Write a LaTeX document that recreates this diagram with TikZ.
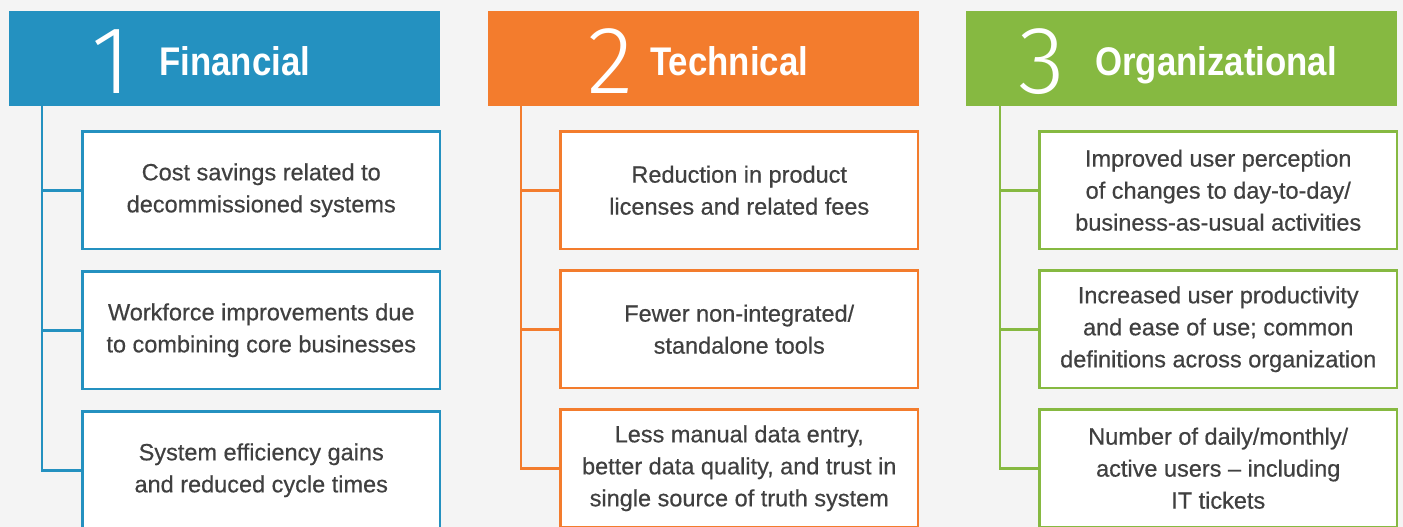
\documentclass[tikz,border=0pt]{standalone}
\usepackage{fontspec}
\setmainfont{Liberation Sans}[FakeBold=0.5]
\newfontfamily\headfont{Liberation Sans}[FakeStretch=0.87]
\newfontfamily\numfont{Fira Sans Light}
\usetikzlibrary{positioning}
\definecolor{finblue}{RGB}{36,145,192}
\definecolor{techorange}{RGB}{243,124,45}
\definecolor{orggreen}{RGB}{134,185,65}
\definecolor{bggray}{RGB}{244,244,244}
\definecolor{txtgray}{RGB}{64,64,64}

\begin{document}
\begin{tikzpicture}[x=1pt,y=-1pt,
  head/.style={fill=#1, minimum width=431pt, minimum height=95pt, anchor=north west, inner sep=0pt},
  num/.style={text=white, font=\numfont\fontsize{96}{96}\selectfont, inner sep=0pt, anchor=base east},
  title/.style={text=white, font=\headfont\bfseries\fontsize{40}{40}\selectfont, inner sep=0pt, anchor=base west},
  item/.style={draw=#1, line width=2.5pt, fill=white, minimum width=357.5pt, minimum height=117.5pt,
    anchor=north west, align=center, text=txtgray, font=\fontsize{23.5}{32}\selectfont, inner sep=0pt},
  branch/.style={draw=#1, line width=2.5pt}]
\fill[bggray] (0,0) rectangle (1403,527);
\useasboundingbox (0,0) rectangle (1403,527);

\node[head=finblue] (h1) at (9,11) {};
\node[head=techorange] (h2) at (488,11) {};
\node[head=orggreen] (h3) at (966,11) {};

\node[title] (t1) at (159,76) {Financial};
\node[num] (n1) at (131,93) {1};
\node[title] (t2) at (650,76) {Technical};
\node[num] (n2) at (634,93) {2};
\node[title] (t3) at (1095,76) {Organizational};
\node[num] (n3) at (1065,93) {3};

\node[item=finblue] (b11) at (81.25,130.25) {Cost savings related to\\decommissioned systems};
\node[item=finblue] (b12) at (81.25,270.25) {Workforce improvements due\\to combining core businesses};
\node[item=finblue] (b13) at (81.25,410.25) {System efficiency gains\\and reduced cycle times};
\node[item=techorange] (b21) at (559.25,130.25) {Reduction in product\\licenses and related fees};
\node[item=techorange] (b22) at (559.25,269.25) {Fewer non-integrated/\\standalone tools};
\node[item=techorange] (b23) at (559.25,408.25) {Less manual data entry,\\better data quality, and trust in\\single source of truth system};
\node[item=orggreen] (b31) at (1038.25,130.25) {Improved user perception\\of changes to day-to-day/\\business-as-usual activities};
\node[item=orggreen] (b32) at (1038.25,269.25) {Increased user productivity\\and ease of use; common\\definitions across organization};
\node[item=orggreen] (b33) at (1038.25,408.25) {Number of daily/monthly/\\active users -- including\\IT tickets};

\coordinate (s1) at (42,106);
\coordinate (s2) at (521,106);
\coordinate (s3) at (1000,106);
\draw[branch=finblue] (s1) |- (b13.west);
\draw[branch=finblue] (b11.west) -- (b11.west -| s1) (b12.west) -- (b12.west -| s1);
\draw[branch=techorange] (s2) |- (b23.west);
\draw[branch=techorange] (b21.west) -- (b21.west -| s2) (b22.west) -- (b22.west -| s2);
\draw[branch=orggreen] (s3) |- (b33.west);
\draw[branch=orggreen] (b31.west) -- (b31.west -| s3) (b32.west) -- (b32.west -| s3);
\end{tikzpicture}
\end{document}
